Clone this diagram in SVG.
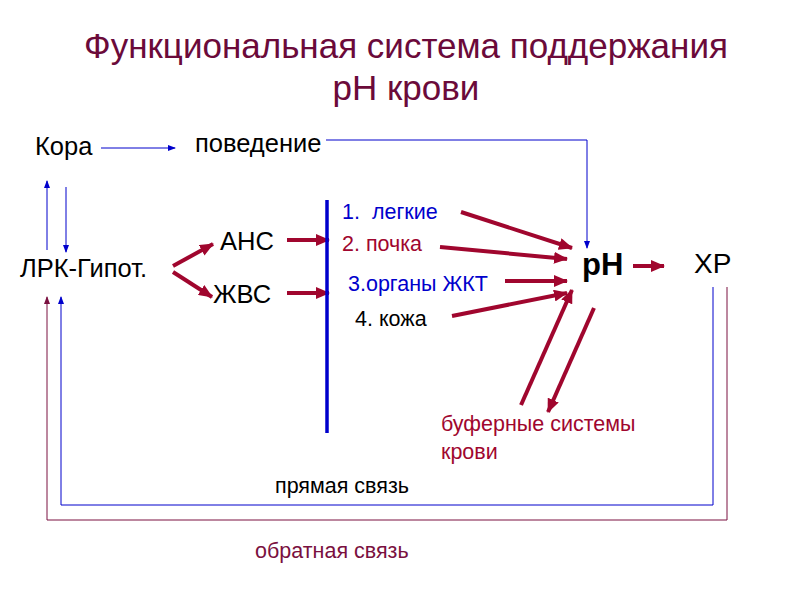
<svg xmlns="http://www.w3.org/2000/svg" width="800" height="600" viewBox="0 0 800 600">
<style>
text{font-family:"Liberation Sans",Arial,sans-serif}
.t{font-size:35px;fill:#6B0A3A;text-anchor:middle}
.n{font-size:25.5px;fill:#000}
.l{font-size:21.5px}
.thin{stroke:#0000CC;stroke-width:1;fill:none}
.thinm{stroke:#7A1040;stroke-width:1;fill:none}
.thick{stroke:#A0062E;stroke-width:4;fill:none}
</style>
<defs>
<marker id="ab" markerWidth="8" markerHeight="6" refX="7" refY="3" orient="auto" markerUnits="userSpaceOnUse"><path d="M0,0L8,3L0,6z" fill="#0000CC"/></marker>
<marker id="am" markerWidth="8" markerHeight="6" refX="7" refY="3" orient="auto" markerUnits="userSpaceOnUse"><path d="M0,0L8,3L0,6z" fill="#7A1040"/></marker>
<marker id="ar" markerWidth="14" markerHeight="12" refX="13" refY="6" orient="auto" markerUnits="userSpaceOnUse"><path d="M0,0L14,6L0,12z" fill="#A0062E"/></marker>
</defs>
<text class="t" x="406" y="58">Функциональная система поддержания</text>
<text class="t" x="406" y="100">pH крови</text>
<g id="connectors">
<path class="thin" d="M101,148H175" marker-end="url(#ab)"/>
<path class="thin" d="M326,140H587V248" marker-end="url(#ab)"/>
<path class="thin" d="M47,250V181" marker-end="url(#ab)"/>
<path class="thin" d="M66,187V252" marker-end="url(#ab)"/>
<path class="thin" d="M713,287V505H61V297" marker-end="url(#ab)"/>
<path class="thinm" d="M727,287V520H47V297" marker-end="url(#am)"/>
<path class="thick" d="M173,266L213,244" marker-end="url(#ar)"/>
<path class="thick" d="M173,272L212,297" marker-end="url(#ar)"/>
<path class="thick" d="M287,240H329" marker-end="url(#ar)"/>
<path class="thick" d="M287,293H329" marker-end="url(#ar)"/>
<path d="M327,200V433" stroke="#0000CC" stroke-width="3.5"/>
<path class="thick" d="M461,212L572,248" marker-end="url(#ar)"/>
<path class="thick" d="M440,247L567,259" marker-end="url(#ar)"/>
<path class="thick" d="M505,281H567" marker-end="url(#ar)"/>
<path class="thick" d="M452,316L567,293" marker-end="url(#ar)"/>
<path class="thick" d="M521,405L572,290" marker-end="url(#ar)"/>
<path class="thick" d="M594,308L548,412" marker-end="url(#ar)"/>
<path class="thick" d="M633,266H664" marker-end="url(#ar)"/>
</g>
<g id="kora"><text class="n" x="35" y="155">Кора</text></g>
<g id="povedenie"><text class="n" x="195" y="152">поведение</text></g>
<g id="lrk"><text class="n" x="20" y="277">ЛРК-Гипот.</text></g>
<g id="ans"><text class="n" x="220" y="250">АНС</text></g>
<g id="zhvs"><text class="n" x="213" y="303">ЖВС</text></g>
<g id="organs">
<text class="l" x="342" y="219" fill="#0000CC" font-size="20" xml:space="preserve">1.  легкие</text>
<text class="l" x="342" y="251" fill="#A0062E" font-size="20">2. почка</text>
<text class="l" x="348" y="291" fill="#0000CC" font-size="20">3.органы ЖКТ</text>
<text class="l" x="355" y="326" fill="#000" font-size="20">4. кожа</text>
</g>
<g id="ph"><text x="582" y="275" font-size="31" font-weight="bold">pH</text></g>
<g id="xp"><text x="694" y="273" font-size="28">ХР</text></g>
<g id="buffer"><text class="l" x="441" y="431" fill="#A0062E">буферные системы</text><text class="l" x="441" y="459" fill="#A0062E">крови</text></g>
<g id="labels">
<text class="l" x="275" y="493" fill="#000">прямая связь</text>
<text class="l" x="255" y="558" fill="#7A1040">обратная связь</text>
</g>
</svg>
